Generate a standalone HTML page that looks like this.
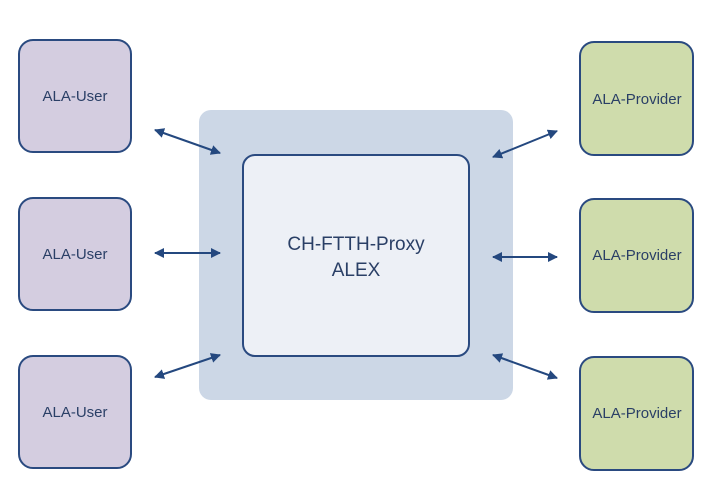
<!DOCTYPE html><html><head><style>body{margin:0;background:#fff}text{font-family:"Liberation Sans",sans-serif;fill:#2a3f66}</style></head><body>
<svg width="715" height="490" viewBox="0 0 715 490" xmlns="http://www.w3.org/2000/svg">
<defs><marker id="a" viewBox="0 0 10 10" refX="9" refY="5" markerWidth="5" markerHeight="5" orient="auto-start-reverse"><path d="M0,0L10,5L0,10z" fill="#24487f"/></marker></defs>
<rect x="199" y="110" width="314" height="290" rx="12" fill="#ccd7e6"/>
<rect x="243" y="155" width="226" height="201" rx="12" fill="#edf0f6" stroke="#2a4a80" stroke-width="2"/>
<text x="356" y="250" font-size="19" text-anchor="middle">CH-FTTH-Proxy</text>
<text x="356" y="276" font-size="19" text-anchor="middle">ALEX</text>
<g fill="#d4cde0" stroke="#2a4a80" stroke-width="2">
<rect x="19" y="40" width="112" height="112" rx="14"/><rect x="19" y="198" width="112" height="112" rx="14"/><rect x="19" y="356" width="112" height="112" rx="14"/></g>
<g fill="#cfdcac" stroke="#2a4a80" stroke-width="2">
<rect x="580" y="42" width="113" height="113" rx="14"/><rect x="580" y="199" width="113" height="113" rx="14"/><rect x="580" y="357" width="113" height="113" rx="14"/></g>
<g font-size="15" text-anchor="middle">
<text x="75" y="101">ALA-User</text><text x="75" y="259">ALA-User</text><text x="75" y="417">ALA-User</text>
<text x="637" y="104">ALA-Provider</text><text x="637" y="260">ALA-Provider</text><text x="637" y="418">ALA-Provider</text></g>
<g stroke="#24487f" stroke-width="2" marker-start="url(#a)" marker-end="url(#a)">
<line x1="155" y1="130" x2="220" y2="153"/><line x1="155" y1="253" x2="220" y2="253"/><line x1="155" y1="377" x2="220" y2="355"/>
<line x1="493" y1="157" x2="557" y2="131"/><line x1="493" y1="257" x2="557" y2="257"/><line x1="493" y1="355" x2="557" y2="378"/></g>
</svg></body></html>
